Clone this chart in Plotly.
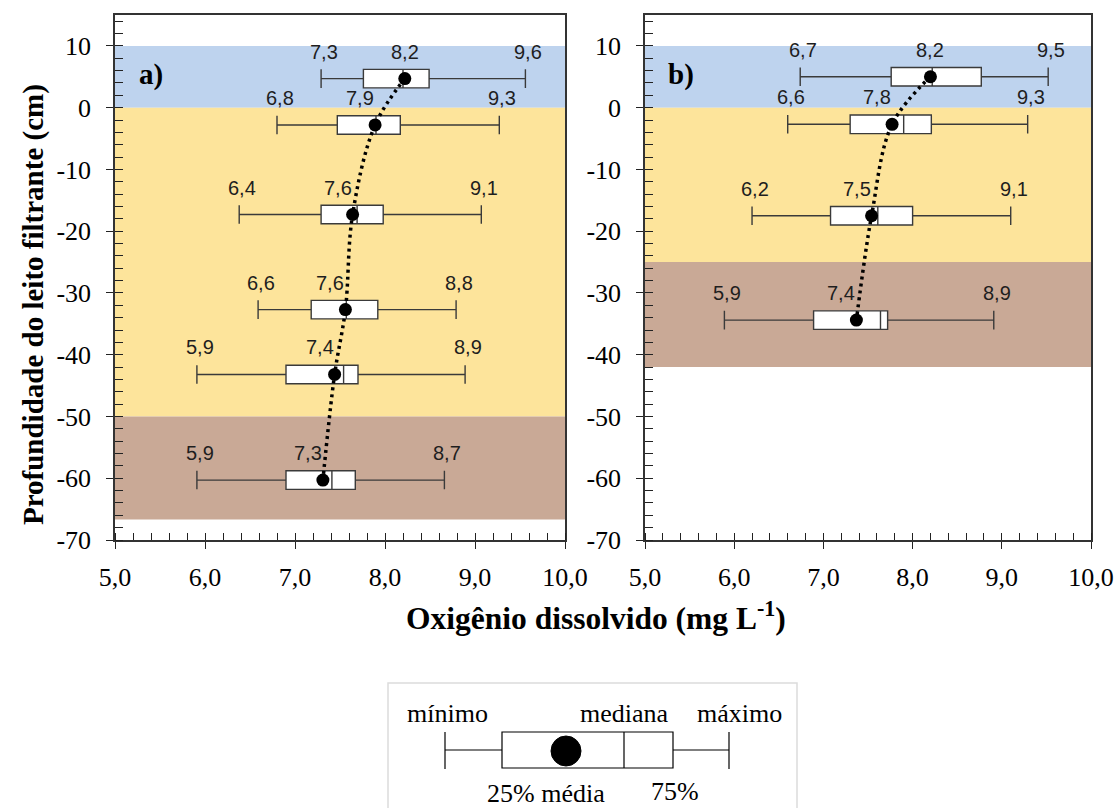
import plotly.graph_objects as go

# ---- data: dissolved oxygen (mg/L) by depth in the filter bed ----
# panel a)
depth_a = [4.7, -2.8, -17.3, -32.7, -43.2, -60.3]
min_a = [7.29, 6.80, 6.38, 6.59, 5.91, 5.91]
q1_a = [7.76, 7.47, 7.29, 7.18, 6.90, 6.90]
med_a = [8.20, 7.90, 7.69, 7.57, 7.54, 7.41]
q3_a = [8.49, 8.17, 7.98, 7.92, 7.70, 7.67]
max_a = [9.56, 9.27, 9.07, 8.79, 8.89, 8.66]
mean_a = [8.22, 7.89, 7.64, 7.56, 7.44, 7.31]

# panel b)
depth_b = [5.0, -2.7, -17.5, -34.4]
min_b = [6.74, 6.60, 6.20, 5.89]
q1_b = [7.76, 7.30, 7.08, 6.89]
med_b = [8.22, 7.90, 7.61, 7.64]
q3_b = [8.77, 8.21, 8.00, 7.72]
max_b = [9.52, 9.29, 9.10, 8.91]
mean_b = [8.20, 7.77, 7.54, 7.37]

# filter-bed layers (depth ranges, cm)
layers_a = [(0, 10), (-50, 0), (-66.7, -50)]
layers_b = [(0, 10), (-25, 0), (-42, -25)]
layer_colors = ["#BED3EE", "#FDE49B", "#C9A996"]

x_ticks = [5, 6, 7, 8, 9, 10]
y_ticks = [10, 0, -10, -20, -30, -40, -50, -60, -70]

W, H = 1120, 808
SERIF = "Liberation Serif"
SANS = "Liberation Sans"


def fmt(v):
    return f"{v:.1f}".replace(".", ",")


def px(x):
    # page pixel -> paper fraction (margins are zero)
    return x / W


def py(y):
    return 1 - y / H


fig = go.Figure()

panels = [
    ("x", "y", depth_a, min_a, q1_a, med_a, q3_a, max_a, mean_a, layers_a, "a)"),
    ("x2", "y2", depth_b, min_b, q1_b, med_b, q3_b, max_b, mean_b, layers_b, "b)"),
]

for xa, ya, dep, mn, q1, md, q3, mx, mean, layers, tag in panels:
    # background layers
    for (y0, y1), col in zip(layers, layer_colors):
        fig.add_shape(type="rect", xref=f"{xa} domain", yref=ya, x0=0, x1=1,
                      y0=y0, y1=y1, fillcolor=col, line_width=0, layer="below")

    fig.add_trace(go.Box(
        orientation="h", y=dep, q1=q1, median=md, q3=q3,
        lowerfence=mn, upperfence=mx, width=3.0, whiskerwidth=1,
        fillcolor="white", line=dict(color="#3a3a3a", width=1.4),
        boxpoints=False, showlegend=False, xaxis=xa, yaxis=ya,
    ))
    # trend of the means
    fig.add_trace(go.Scatter(
        x=mean, y=dep, mode="lines", line=dict(color="black", width=3.5,
                                               dash="3px,4px", shape="spline"),
        showlegend=False, xaxis=xa, yaxis=ya,
    ))
    fig.add_trace(go.Scatter(
        x=mean, y=dep, mode="markers", marker=dict(color="black", size=13),
        showlegend=False, xaxis=xa, yaxis=ya,
    ))

    lab_font = dict(family=SANS, size=20, color="#1e1e1e")
    for i, d in enumerate(dep):
        for v, dx in ((mn[i], 3), (mean[i], 0 if i == 0 else -15), (mx[i], 3)):
            fig.add_annotation(x=v, y=d, xref=xa, yref=ya, text=fmt(v),
                               showarrow=False, yshift=27, xshift=dx, font=lab_font)

    fig.add_annotation(x=5.4, y=5.3, xref=xa, yref=ya, text=f"<b>{tag}</b>",
                       showarrow=False, font=dict(family=SERIF, size=29, color="black"))

axis_common = dict(
    showgrid=False, zeroline=False, showline=True, mirror=True, automargin=False,
    linecolor="#333", linewidth=1.5,
    ticks="outside", ticklen=7, tickcolor="#222", tickwidth=1.3,
    tickfont=dict(family=SERIF, size=26, color="black"),
)

xa_cfg = dict(axis_common, range=[5, 10], tickvals=x_ticks,
              ticktext=[fmt(v) for v in x_ticks], ticklabelstandoff=6,
              minor=dict(ticks="inside", dtick=0.2, ticklen=7, tickcolor="#222"))
ya_cfg = dict(axis_common, range=[-70, 15], tickvals=y_ticks,
              ticktext=[str(v) for v in y_ticks], ticklabelstandoff=10,
              minor=dict(ticks="inside", dtick=2, tick0=0, ticklen=8, tickcolor="#222"))

y_dom = [1 - 540 / H, 1 - 15 / H]
fig.update_layout(
    template="none",
    font=dict(family=SERIF),
    width=W, height=H, margin=dict(l=0, r=0, t=0, b=0, autoexpand=False),
    paper_bgcolor="white", plot_bgcolor="white",
    xaxis=dict(xa_cfg, domain=[115 / W, 565 / W], anchor="y"),
    yaxis=dict(ya_cfg, domain=y_dom, anchor="x"),
    xaxis2=dict(xa_cfg, domain=[645 / W, 1091 / W], anchor="y2"),
    yaxis2=dict(ya_cfg, domain=y_dom, anchor="x2"),
)


def page_text(text, x, y, font, **kw):
    fig.add_annotation(x=px(x), y=py(y), xref="paper", yref="paper", text=text,
                       showarrow=False, xanchor="center", yanchor="middle",
                       font=font, **kw)


# axis titles
page_text("<b>Profundidade do leito filtrante (cm)</b>", 33, 305,
          dict(family=SERIF, size=29, color="black"), textangle=-90)
page_text("<b>Oxigênio dissolvido (mg L<sup>-1</sup>)</b>", 596, 616,
          dict(family=SERIF, size=31.5, color="black"))

# key explaining the box plot
key_line = dict(color="black", width=1.2)


def seg(x0, y0, x1, y1, kind="line", **kw):
    fig.add_shape(type=kind, xref="paper", yref="paper",
                  x0=px(x0), x1=px(x1), y0=py(y0), y1=py(y1), **kw)


seg(388, 683, 797, 812, kind="rect", line=dict(color="#dcdcdc", width=1.5), fillcolor="white")
seg(445, 750, 502, 750, line=key_line)
seg(673, 750, 729, 750, line=key_line)
seg(445, 732, 445, 769, line=key_line)
seg(729, 732, 729, 769, line=key_line)
seg(502, 732, 673, 768, kind="rect", line=key_line, fillcolor="white")
seg(624, 732, 624, 768, line=key_line)
seg(551, 736, 581, 766, kind="circle", line=dict(color="black", width=1), fillcolor="black")

key_font = dict(family=SERIF, size=26, color="black")
for tx, x, y in [("mínimo", 447, 713), ("mediana", 624, 713), ("máximo", 739, 713),
                 ("25% média", 546, 793), ("75%", 675, 791)]:
    page_text(tx, x, y, key_font)

fig.write_html("out.html")
